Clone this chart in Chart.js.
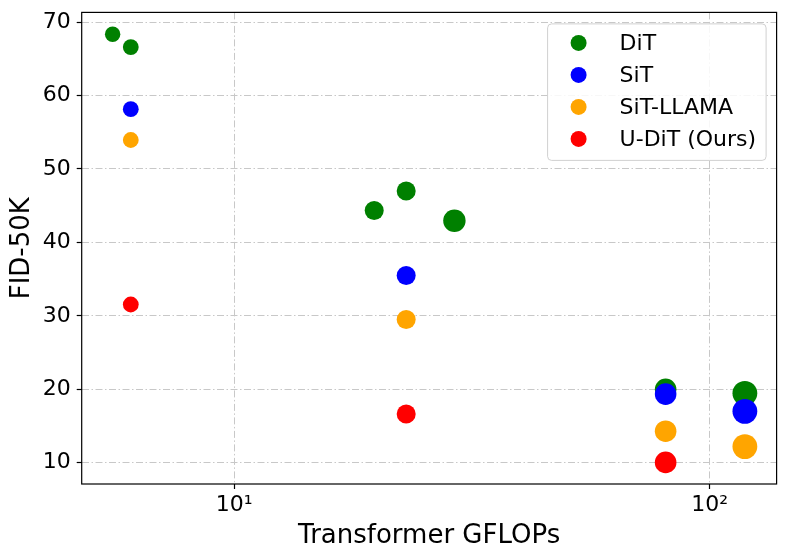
<!DOCTYPE html>
<html>
<head>
<meta charset="utf-8">
<script src="https://cdn.jsdelivr.net/npm/chart.js@4.4.1/dist/chart.umd.min.js"></script>
<style>
html,body{margin:0;padding:0;background:#fff;}
#wrap{width:789px;height:560px;}
</style>
</head>
<body>
<div id="wrap"><canvas id="c" width="789" height="560"></canvas></div>
<script>
// ---- data ----
const seriesNames = ['DiT', 'SiT', 'SiT-LLAMA', 'U-DiT (Ours)'];
const ditX = [5.55, 6.06, 19.7, 23.0, 29.05, 80.8, 118.6];
const ditY = [68.35, 66.6, 44.35, 47.0, 42.95, 20.0, 19.45];
const sitX = [6.06, 23.0, 80.8, 118.6];
const sitY = [58.15, 35.5, 19.35, 17.0];
const llamaX = [6.06, 23.0, 80.8, 118.6];
const llamaY = [53.95, 29.5, 14.3, 12.2];
const uditX = [6.06, 23.0, 80.8];
const uditY = [31.55, 16.65, 10.05];
const xTickValues = [10, 100];
const xTickLabels = ['10\u00B9', '10\u00B2'];
const yTickValues = [10, 20, 30, 40, 50, 60, 70];

// ---- styles (marker sizes per point) ----
const ditR = [7.7, 7.9, 9.5, 9.5, 11.2, 10.8, 12.4];
const sitR = [7.9, 9.5, 10.8, 12.4];
const llamaR = [7.9, 9.5, 10.8, 12.4];
const uditR = [7.9, 9.5, 10.8];
const colors = ['#008000', '#0000ff', '#ffa500', '#ff0000'];

function pts(xs, ys) { return xs.map((x, i) => ({x: x, y: ys[i]})); }

const FONT = 'DejaVu Sans';
const gridDash = [7, 2.5, 1.5, 2.5];

const frame = {
  id: 'frame',
  afterDatasetsDraw(chart) {
    const a = chart.chartArea, ctx = chart.ctx;
    ctx.save();
    ctx.strokeStyle = '#000';
    ctx.lineWidth = 1.2;
    ctx.strokeRect(a.left, a.top, a.right - a.left, a.bottom - a.top);
    ctx.restore();
  }
};

const boxLegend = {
  id: 'boxLegend',
  afterDraw(chart) {
    const ctx = chart.ctx;
    const a = chart.chartArea;
    const x0 = a.right - 229, y0 = a.top + 11.5, w = 218.5, h = 136.5, r = 4;
    ctx.save();
    ctx.beginPath();
    ctx.moveTo(x0 + r, y0);
    ctx.arcTo(x0 + w, y0, x0 + w, y0 + h, r);
    ctx.arcTo(x0 + w, y0 + h, x0, y0 + h, r);
    ctx.arcTo(x0, y0 + h, x0, y0, r);
    ctx.arcTo(x0, y0, x0 + w, y0, r);
    ctx.closePath();
    ctx.fillStyle = 'rgba(255,255,255,0.85)';
    ctx.fill();
    ctx.strokeStyle = '#d0d0d0';
    ctx.lineWidth = 1;
    ctx.stroke();
    ctx.font = '22px "' + FONT + '"';
    ctx.textBaseline = 'middle';
    ctx.textAlign = 'left';
    chart.data.datasets.forEach((ds, i) => {
      const cy = y0 + 19 + i * 32;
      ctx.beginPath();
      ctx.arc(x0 + 31, cy, 8, 0, Math.PI * 2);
      ctx.fillStyle = ds.backgroundColor;
      ctx.fill();
      ctx.fillStyle = '#000';
      ctx.fillText(ds.label, x0 + 72, cy + 1);
    });
    ctx.restore();
  }
};

const mk = (label, xs, ys, rs, color, order) => ({
  label: label,
  data: pts(xs, ys),
  backgroundColor: color,
  borderColor: color,
  borderWidth: 0,
  pointRadius: rs,
  pointHoverRadius: rs,
  order: order
});

new Chart(document.getElementById('c'), {
  type: 'scatter',
  data: {
    datasets: [
      mk(seriesNames[0], ditX, ditY, ditR, colors[0], 4),
      mk(seriesNames[1], sitX, sitY, sitR, colors[1], 3),
      mk(seriesNames[2], llamaX, llamaY, llamaR, colors[2], 2),
      mk(seriesNames[3], uditX, uditY, uditR, colors[3], 1)
    ]
  },
  options: {
    responsive: false,
    animation: false,
    devicePixelRatio: 1,
    layout: {padding: {left: 0, top: 11, right: 12, bottom: 0}},
    plugins: {legend: {display: false}, tooltip: {enabled: false}},
    scales: {
      x: {
        type: 'logarithmic',
        min: 4.778,
        max: 138.3,
        afterBuildTicks(scale) { scale.ticks = xTickValues.map(v => ({value: v})); },
        afterFit(scale) { scale.height = 76; scale.paddingLeft = 0; scale.paddingRight = 0; },
        ticks: {
          font: {family: FONT, size: 22},
          color: '#000',
          padding: 3,
          maxRotation: 0,
          autoSkip: false,
          callback: function(value, index) { return xTickLabels[index]; }
        },
        grid: {color: '#c8c8c8', lineWidth: 1, tickColor: '#000', tickLength: 5, tickWidth: 1.2},
        border: {display: false, dash: gridDash},
        title: {display: true, text: 'Transformer GFLOPs', color: '#000',
                font: {family: FONT, size: 26}, padding: {top: 6, bottom: 8}}
      },
      y: {
        type: 'linear',
        min: 7.11,
        max: 71.32,
        afterBuildTicks(scale) { scale.ticks = yTickValues.map(v => ({value: v})); },
        afterFit(scale) { scale.width = 81.7; scale.paddingTop = 0; scale.paddingBottom = 0; },
        ticks: {
          font: {family: FONT, size: 22},
          color: '#000',
          padding: 6
        },
        grid: {color: '#c8c8c8', lineWidth: 1, tickColor: '#000', tickLength: 5, tickWidth: 1.2},
        border: {display: false, dash: gridDash},
        title: {display: true, text: 'FID-50K', color: '#000',
                font: {family: FONT, size: 26}, padding: {top: 6.5, bottom: 4}}
      }
    }
  },
  plugins: [frame, boxLegend]
});
</script>
</body>
</html>
